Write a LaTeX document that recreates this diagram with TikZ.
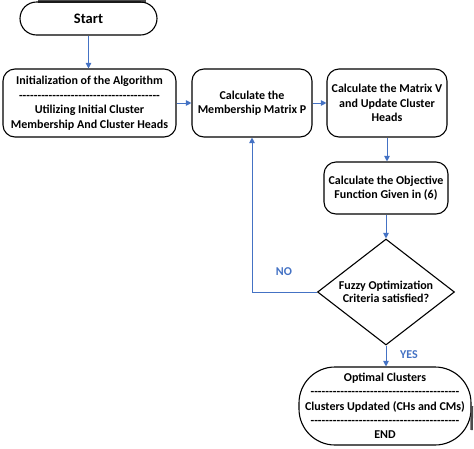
\documentclass[tikz,border=0pt]{standalone}
\usepackage{fontspec}
\setmainfont{Carlito}
\usetikzlibrary{shapes.geometric,arrows.meta}
\definecolor{arr}{HTML}{4472C4}
\newcommand\dashrule[1]{\hbox to #1{\xleaders\hbox{-}\hfill}}
\begin{document}
\begin{tikzpicture}[x=1pt,y=-1pt,
  box/.style={draw, line width=1.1pt, rounded corners=12pt, align=center, font=\bfseries\fontsize{12}{14.5}\selectfont, inner sep=0pt},
  flow/.style={draw=arr, line width=1pt, -{Triangle[length=5.5pt,width=5.5pt]}},
  lbl/.style={text=arr, font=\bfseries\fontsize{12}{14.5}\selectfont}]
\useasboundingbox (0,0) rectangle (474,448);
\fill[black!70] (38,0) rectangle (146,2.5);
\node[box, minimum width=137pt, minimum height=33pt, rounded corners=16.5pt, font=\bfseries\fontsize{14.5}{16}\selectfont] (start) at (88.5,18.5) {Start};
\node[box, minimum width=173pt, minimum height=68pt] (init) at (89.5,103) {Initialization of the Algorithm\\\dashrule{141pt}\\Utilizing Initial Cluster\\Membership And Cluster Heads};
\node[box, minimum width=120pt, minimum height=68pt] (p) at (252,103) {Calculate the\\Membership Matrix P};
\node[box, minimum width=120pt, minimum height=68pt] (v) at (387,103) {Calculate the Matrix V\\and Update Cluster\\Heads};
\node[box, minimum width=124pt, minimum height=52pt] (obj) at (386,188) {Calculate the Objective\\Function Given in (6)};
\node[draw, diamond, line width=1.1pt, minimum width=137pt, minimum height=106pt, inner sep=0pt, aspect=1.3, align=center, font=\bfseries\fontsize{12}{13.5}\selectfont] (dec) at (386,292) {Fuzzy Optimization\\Criteria satisfied?};
\node[box, minimum width=172pt, minimum height=78pt, rounded corners=36pt, font=\bfseries\fontsize{12}{14.25}\selectfont] (end) at (385,406) {Optimal Clusters\\\dashrule{149pt}\\Clusters Updated (CHs and CMs)\\\dashrule{149pt}\\END};
\draw[black!70, line width=2.5pt] (472,406) -- (471.5,430);
\draw[flow] (start.south) -- (start.south |- init.north);
\draw[flow] (init) -- (p);
\draw[flow] (p) -- (v);
\draw[flow] (v.south) -- (v.south |- obj.north);
\draw[flow] (obj) -- (dec);
\draw[flow] (dec.west) -| (p.south);
\draw[flow] (dec.south) -- (dec.south |- end.north);
\node[lbl] (no) at (284,272) {NO};
\node[lbl] (yes) at (409,355) {YES};
\end{tikzpicture}
\end{document}
